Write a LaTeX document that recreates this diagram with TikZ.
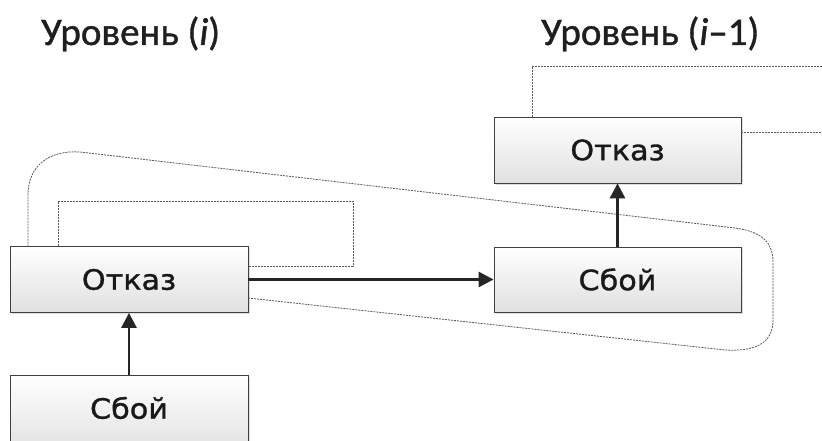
\documentclass[tikz,border=0pt]{standalone}
\usepackage{fontspec}
\setmainfont{Carlito}
\newfontfamily\boxfont[FakeStretch=1.08,FakeBold=1.2]{DejaVu Sans}
\newfontfamily\ttlfont[FakeBold=1.0]{Carlito}
\usetikzlibrary{arrows.meta,shadows}
\begin{document}
\begin{tikzpicture}[x=1pt,y=-1pt,
  blk/.style={draw=black!75, line width=0.8pt, top color=white, bottom color=black!12,
    minimum width=238pt, minimum height=66pt, inner sep=0pt,
    font=\boxfont\fontsize{28}{30}\selectfont, text=black!90,
    drop shadow={shadow xshift=1.5pt, shadow yshift=-1.5pt, fill=black!25, opacity=0.5}},
  blktext/.style={font=\boxfont\fontsize{28}{30}\selectfont, text=black!90},
  conn/.style={line width=2.8pt, draw=black!85, -{Triangle[length=15pt,width=15pt]}},
  dot/.style={draw=black!65, line width=0.8pt, dash pattern=on 2pt off 1pt},
  ttl/.style={font=\ttlfont\fontsize{39}{42}\selectfont, text=black!88, anchor=base west, inner sep=0pt}]
\useasboundingbox (0,0) rectangle (822,441);
\fill[white] (0,0) rectangle (822,441);
\begin{scope}
\clip (0,0) rectangle (822,441);
\node[ttl] (t1) at (41,45) {Уровень (\textit{i})};
\node[ttl] (t2) at (541,45) {Уровень (\textit{i}–1)};
% nodes
\node[blk] (f1) at (129,279.5) {Отказ};
\node[blk, minimum height=80pt] (s1) at (129,415) {};
\node[blktext] (s1t) at (129,408) {Сбой};
\node[blk, minimum width=247pt] (f2) at (617.5,150) {Отказ};
\node[blk, minimum width=247pt, minimum height=65pt] (s2) at (617.5,279.5) {Сбой};
% dotted shapes
\coordinate (a1) at (58,201);
\coordinate (a2) at (353,201);
\coordinate (a3) at (353,266);
\draw[dot] (f1.north west -| a1) -- (a1) -- (a2) -- (a3) -- (a3 -| f1.east);
\draw[dot] (28,246.5) -- (28,195) .. controls (28,165) and (50,150) .. (80,152)
  -- (735,228) .. controls (765,232) and (773,245) .. (773,262)
  -- (773,320) .. controls (773,340) and (760,352) .. (725,350)
  -- (248,298);
\coordinate (b1) at (532,66);
\coordinate (b2) at (822,66);
\coordinate (b3) at (822,132);
\draw[dot] (f2.north west -| b1) -- (b1) -- (b2);
\draw[dot] (f2.east |- b3) -- (b3);
% connectors
\draw[conn] (s1.north) -- (f1.south);
\draw[conn] (f1.east) -- (s2.west);
\draw[conn] (s2.north) -- (f2.south);
\end{scope}
\end{tikzpicture}
\end{document}
